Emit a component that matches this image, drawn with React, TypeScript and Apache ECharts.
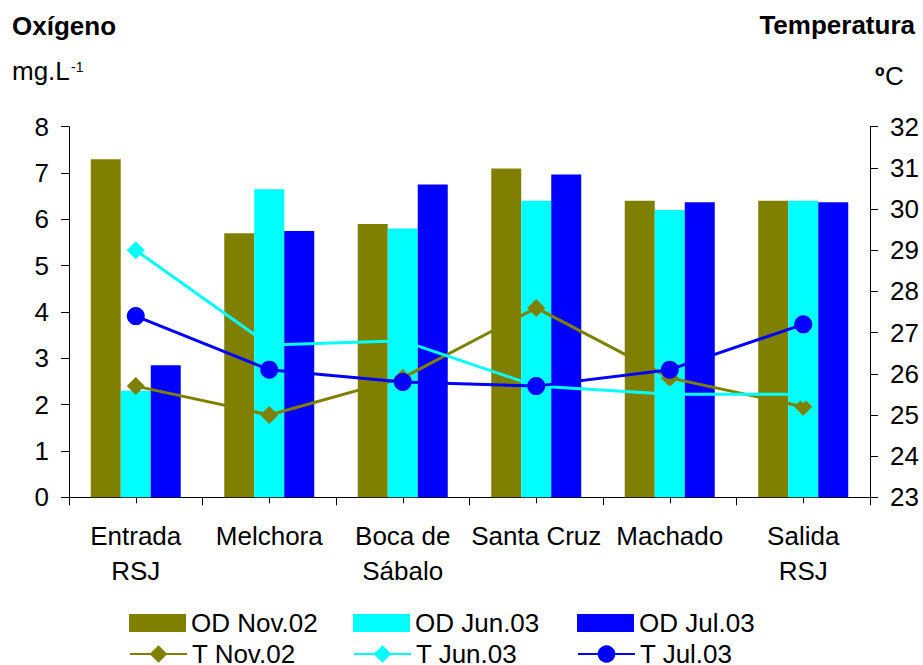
import React, { useEffect, useRef } from "react";
import * as echarts from "echarts";

const categories = ["Entrada\nRSJ", "Melchora", "Boca de\nSábalo", "Santa Cruz", "Machado", "Salida\nRSJ"];
const odNov = [7.3, 5.7, 5.9, 7.1, 6.4, 6.4];
const odJun = [2.3, 6.65, 5.8, 6.4, 6.2, 6.4];
const odJul = [2.85, 5.75, 6.75, 6.97, 6.37, 6.37];
const tNov = [25.7, 25.0, 25.9, 27.6, 25.9, 25.2];
const tJun = [29.0, 26.7, 26.8, 25.7, 25.5, 25.5];
const tJul = [27.4, 26.1, 25.8, 25.7, 26.1, 27.2];

const OLIVE = "#808000";
const CYAN = "#00FFFF";
const BLUE = "#0000FF";
const FONT = "'Liberation Sans', Arial, sans-serif";
const FS = 26;

export default function App() {
  const ref = useRef<HTMLDivElement>(null);
  useEffect(() => {
    if (!ref.current) return;
    const chart = echarts.init(ref.current, undefined, { renderer: "svg" });
    const axisLine = { show: true, lineStyle: { color: "#000", width: 1 } };
    const legendBase = {
      orient: "horizontal",
      itemWidth: 57,
      textStyle: { fontSize: FS, fontFamily: FONT, color: "#000", lineHeight: 28 },
      padding: 0,
    };
    const legendCols = [129, 353, 577];
    const legendRows = [609, 640];
    const legendIconHeights = [18, 22];
    const legendItems = [
      [{ name: "OD Nov.02", icon: "rect" }, { name: "OD Jun.03", icon: "rect" }, { name: "OD Jul.03", icon: "rect" }],
      [{ name: "T Nov.02" }, { name: "T Jun.03" }, { name: "T Jul.03" }],
    ];
    const legends: any[] = [];
    legendItems.forEach((row, r) =>
      row.forEach((item, c) =>
        legends.push({ ...legendBase, itemHeight: legendIconHeights[r], left: legendCols[c], top: legendRows[r], data: [item] })
      )
    );
    chart.setOption({
      animation: false,
      textStyle: { fontFamily: FONT },
      grid: { left: 69, right: 53, top: 126.7, bottom: 167.7, containLabel: false },
      xAxis: [
        {
          type: "category",
          data: categories,
          axisLine,
          axisTick: { show: true, length: 8, lineStyle: { color: "#000" } },
          axisLabel: { fontSize: FS, fontFamily: FONT, color: "#000", margin: 21, lineHeight: 35, interval: 0 },
        },
        {
          type: "category",
          data: categories.map(() => ""),
          position: "bottom",
          axisLine: { show: false },
          axisTick: { show: true, alignWithLabel: true, length: 6, lineStyle: { color: "#000" } },
          axisLabel: { show: false },
        },
      ],
      yAxis: [
        {
          type: "value",
          min: 0,
          max: 8,
          interval: 1,
          position: "left",
          axisLine,
          axisTick: { show: true, length: 8, lineStyle: { color: "#000" } },
          splitLine: { show: false },
          axisLabel: { fontSize: FS, fontFamily: FONT, color: "#000", margin: 20 },
        },
        {
          type: "value",
          min: 23,
          max: 32,
          interval: 1,
          position: "right",
          axisLine,
          axisTick: { show: true, length: 8, lineStyle: { color: "#000" } },
          splitLine: { show: false },
          axisLabel: { fontSize: FS, fontFamily: FONT, color: "#000", margin: 20 },
        },
      ],
      legend: legends,
      graphic: [
        { type: "text", x: 12, y: 25.5, style: { text: "Oxígeno", fontSize: FS, fontWeight: "bold", fontFamily: FONT, fill: "#000", align: "left", verticalAlign: "middle" } },
        { type: "text", x: 12, y: 70.5, style: { text: "mg.L", fontSize: FS, fontFamily: FONT, fill: "#000", align: "left", verticalAlign: "middle" } },
        { type: "text", x: 71, y: 67, style: { text: "-1", fontSize: 14, fontFamily: FONT, fill: "#000", align: "left", verticalAlign: "middle" } },
        { type: "text", x: 915, y: 24.5, style: { text: "Temperatura", fontSize: FS, fontWeight: "bold", fontFamily: FONT, fill: "#000", align: "right", verticalAlign: "middle" } },
        { type: "text", x: 875, y: 75.5, style: { text: "º", fontSize: FS, fontWeight: "bold", fontFamily: FONT, fill: "#000", align: "left", verticalAlign: "middle" } },
        { type: "text", x: 885, y: 75.5, style: { text: "C", fontSize: FS, fontFamily: FONT, fill: "#000", align: "left", verticalAlign: "middle" } },
      ],
      series: [
        { name: "OD Nov.02", type: "bar", data: odNov, barWidth: 30, barGap: "0%", itemStyle: { color: OLIVE } },
        { name: "OD Jun.03", type: "bar", data: odJun, barWidth: 30, barGap: "0%", itemStyle: { color: CYAN } },
        { name: "OD Jul.03", type: "bar", data: odJul, barWidth: 30, barGap: "0%", itemStyle: { color: BLUE } },
        { name: "T Nov.02", type: "line", yAxisIndex: 1, data: tNov, symbol: "diamond", symbolSize: 18, lineStyle: { color: OLIVE, width: 3 }, itemStyle: { color: OLIVE }, z: 3 },
        { name: "T Jun.03", type: "line", yAxisIndex: 1, data: tJun, symbol: "diamond", symbolSize: 18, lineStyle: { color: CYAN, width: 3 }, itemStyle: { color: CYAN }, z: 3 },
        { name: "T Jul.03", type: "line", yAxisIndex: 1, data: tJul, symbol: "circle", symbolSize: 18, lineStyle: { color: BLUE, width: 3 }, itemStyle: { color: BLUE }, z: 3 },
      ],
    });
    return () => chart.dispose();
  }, []);
  return <div ref={ref} style={{ position: "absolute", left: 0, top: 0, width: 923, height: 665, background: "#fff" }} />;
}
